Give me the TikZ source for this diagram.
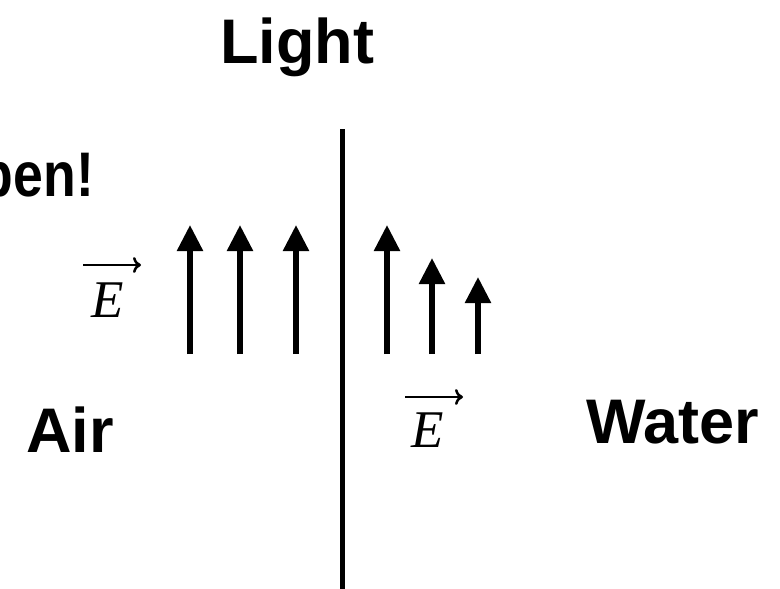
\documentclass[tikz,border=0pt]{standalone}
\usepackage{fontspec}
\setmainfont{Liberation Sans}
\newfontfamily\serifE{Liberation Serif}
\usetikzlibrary{arrows.meta}
\tikzset{
  lbl/.style={font=\fontsize{63}{63}\selectfont\bfseries, inner sep=0pt},
  evec/.style={font=\fontsize{53}{53}\selectfont\serifE\itshape, inner sep=0pt},
  field/.style={line width=5.5pt, -{Triangle[width=25pt,length=26pt]}},
  vecbar/.style={line width=2.5pt, -{To[length=8pt,width=16pt,line width=2.5pt]}},
  wall/.style={line width=5pt}
}
\begin{document}
\begin{tikzpicture}[x=1pt,y=-1pt]
\useasboundingbox (0,0) rectangle (780,589);
\clip (0,0) rectangle (780,589);
\node[lbl, anchor=base] (light) at (297,63) {Light};
\node[lbl, anchor=base east, xscale=0.85] (happen) at (94,196) {pen!};
\node[lbl, anchor=base west] (air) at (26,452) {Air};
\node[lbl, anchor=base west] (water) at (586,443) {Water};
\node[evec, anchor=base] (eleft) at (108,317) {E};
\node[evec, anchor=base] (eright) at (428,447) {E};
\coordinate (elA) at (83,265);
\coordinate (elB) at (141,265);
\draw[vecbar] (elA) -- (elB);
\coordinate (erA) at (405,397);
\coordinate (erB) at (463,397);
\draw[vecbar] (erA) -- (erB);
\coordinate (wtop) at (342,129);
\coordinate (wbot) at (342,589);
\draw[wall] (wtop) -- (wbot);
\foreach \n/\x/\t in {a/190/225, b/240/225, c/296/225, d/387/225, e/432/258, f/478/277} {
  \coordinate (\n0) at (\x,354);
  \coordinate (\n1) at (\x,\t);
  \draw[field] (\n0) -- (\n1);
}
\end{tikzpicture}
\end{document}
